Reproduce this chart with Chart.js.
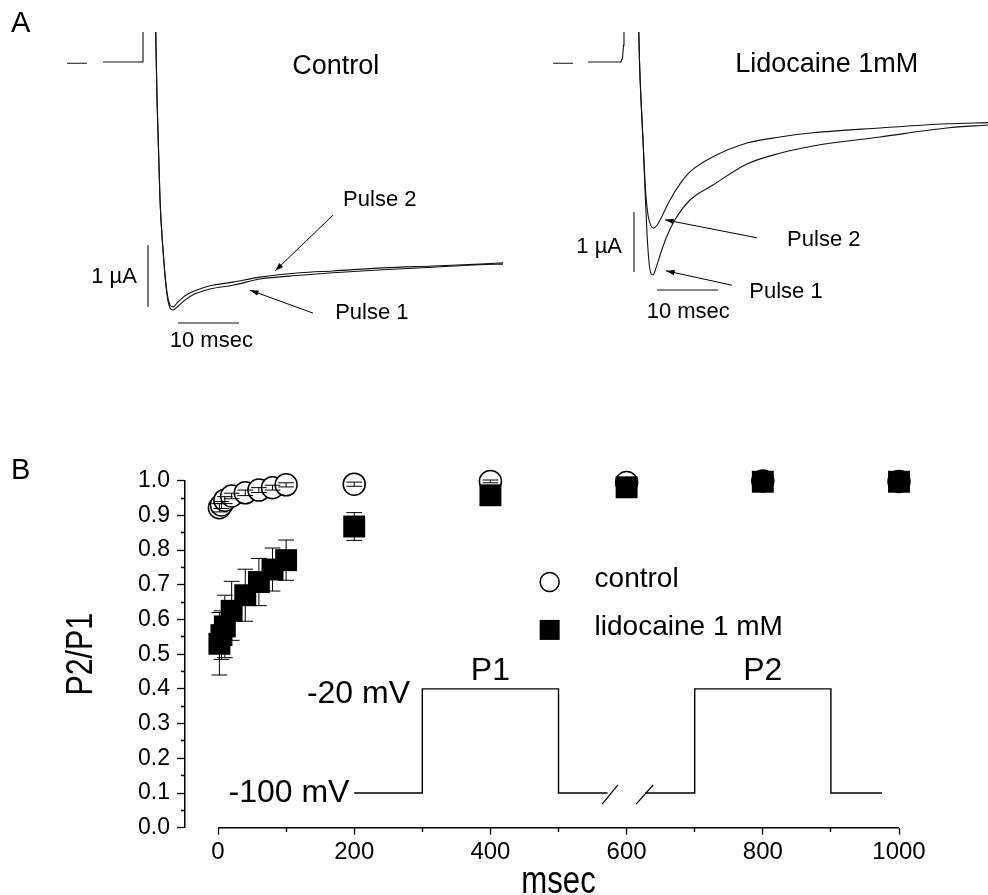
<!DOCTYPE html>
<html>
<head>
<meta charset="utf-8">
<title>Paired pulse recovery</title>
<script src="https://cdn.jsdelivr.net/npm/chart.js@4.4.1/dist/chart.umd.min.js"></script>
<style>
  html, body { margin: 0; padding: 0; background: #fff; overflow: hidden; }
  #page { position: relative; width: 988px; height: 895px; }
  canvas { position: absolute; }
</style>
</head>
<body>
<div id="page">
  <canvas id="ctrl" width="510" height="370" style="left:0;top:0;width:510px;height:370px"></canvas>
  <canvas id="lido" width="508" height="370" style="left:480px;top:0;width:508px;height:370px"></canvas>
  <canvas id="ratio" width="988" height="455" style="left:0;top:440px;width:988px;height:455px"></canvas>
</div>
<script>
// ---- Panel A, control traces (time in ms from step, current in uA) ----
const ctrlTime   = [2.05, 2.30, 2.79, 3.28, 3.85, 4.43, 4.92, 5.74, 6.89, 8.52, 10.98, 14.75, 19.18, 25.74, 31.15, 39.34, 47.54, 55.25, 59.02];
const ctrlPulse2 = [0.68, -0.61, -2.23, -3.03, -3.65, -3.92, -3.95, -3.87, -3.77, -3.69, -3.61, -3.55, -3.47, -3.40, -3.37, -3.32, -3.29, -3.26, -3.24];
const ctrlPulse1 = [0.68, -0.61, -2.23, -3.03, -3.69, -3.97, -4.00, -3.94, -3.84, -3.74, -3.66, -3.60, -3.50, -3.44, -3.40, -3.35, -3.31, -3.27, -3.26];
const ctrlHoldTime = [-12.46, -9.18, -7.9, -6.56, 0, 0];
const ctrlHoldCurr = [-0.02, -0.02, null, 0, 0, 0.6];

// ---- Panel A, lidocaine 1mM traces ----
const lidoTime2  = [2.54, 2.70, 2.95, 3.28, 3.69, 4.10, 4.59, 5.00, 5.57, 6.39, 7.70, 9.34, 10.98, 14.75, 20.33, 25.74, 31.15, 42.13, 53.11, 59.84];
const lidoPulse2 = [0.70, 0.03, -0.63, -1.30, -2.13, -2.55, -2.73, -2.77, -2.72, -2.57, -2.30, -2.03, -1.83, -1.58, -1.35, -1.25, -1.18, -1.10, -1.03, -1.01];
const lidoTime1  = [2.54, 2.70, 2.95, 3.28, 3.61, 3.93, 4.26, 4.59, 4.92, 5.41, 6.23, 7.21, 8.52, 10.98, 14.75, 20.33, 25.74, 31.15, 42.13, 53.11, 59.84];
const lidoPulse1 = [0.70, 0.03, -0.63, -1.30, -2.13, -2.85, -3.33, -3.53, -3.55, -3.43, -3.17, -2.90, -2.63, -2.30, -2.05, -1.70, -1.52, -1.40, -1.25, -1.10, -1.05];
const lidoHoldTime = [-11.48, -8.20, -7.0, -5.74, -0.33, -0.08, 0.08, 0.16];
const lidoHoldCurr = [-0.02, -0.02, null, 0, 0, 0.07, 0.28, 0.7];

// ---- Panel B, P2/P1 vs interpulse interval ----
const intervals = [2, 5, 10, 20, 40, 60, 80, 100, 200, 400, 600, 800, 1000];
const ctrlRatio = [0.922, 0.930, 0.944, 0.956, 0.965, 0.973, 0.980, 0.988, 0.990, 0.998, 0.995, 0.999, 0.998];
const ctrlSem   = [0.012, 0.010, 0.010, 0.008, 0.008, 0.007, 0.007, 0.006, 0.006, 0.004, 0.004, 0.003, 0.003];
const lidoRatio = [0.530, 0.555, 0.580, 0.625, 0.670, 0.708, 0.744, 0.771, 0.868, 0.958, 0.981, 0.997, 0.997];
const lidoSem   = [0.090, 0.070, 0.090, 0.085, 0.075, 0.068, 0.062, 0.058, 0.040, 0.012, 0.010, 0.006, 0.006];

// voltage protocol drawn inside panel B (x in ms, y on the P2/P1 scale)
const protoTime  = [200, 300, 300, 500, 500, 572, 572, 627, 700, 700, 900, 900, 975];
const protoLevel = [0.1, 0.1, 0.4, 0.4, 0.1, 0.1, null, 0.1, 0.1, 0.4, 0.4, 0.1, 0.1];
const breakTime  = [564, 587, 600, 614, 639];
const breakLevel = [0.068, 0.123, null, 0.068, 0.123];

const xTickVals = [0, 100, 200, 300, 400, 500, 600, 700, 800, 900, 1000];
const xTickText = ['0', '', '200', '', '400', '', '600', '', '800', '', '1000'];
const yTickVals = [0, 0.05, 0.1, 0.15, 0.2, 0.25, 0.3, 0.35, 0.4, 0.45, 0.5, 0.55, 0.6, 0.65, 0.7, 0.75, 0.8, 0.85, 0.9, 0.95, 1.0];
const yTickText = ['0.0', '', '0.1', '', '0.2', '', '0.3', '', '0.4', '', '0.5', '', '0.6', '', '0.7', '', '0.8', '', '0.9', '', '1.0'];

const SANS = "'Liberation Sans', Arial, sans-serif";

Chart.defaults.color = '#000';
Chart.defaults.font.family = SANS;

const pts = (xs, ys) => xs.map((x, i) => ({x: x, y: ys[i]}));

// error bars as short segments with caps, separated by gaps
function errPts(xs, ys, es, cap) {
  const out = [];
  xs.forEach((x, i) => {
    const lo = ys[i] - es[i], hi = ys[i] + es[i];
    out.push({x: x, y: lo}, {x: x, y: hi}, {x: x, y: null},
             {x: x - cap, y: hi}, {x: x + cap, y: hi}, {x: x, y: null},
             {x: x - cap, y: lo}, {x: x + cap, y: lo}, {x: x, y: null});
  });
  return out;
}

// squeeze < 1 narrows the glyphs (the figure uses a condensed face for some labels)
function text(ctx, s, x, y, size, align, squeeze, rot) {
  ctx.save();
  ctx.translate(x, y);
  if (rot) ctx.rotate(rot);
  if (squeeze) ctx.scale(squeeze, 1);
  ctx.font = size + 'px ' + SANS;
  ctx.fillStyle = '#000';
  ctx.textAlign = align || 'left';
  ctx.textBaseline = 'middle';
  ctx.fillText(s, 0, 0);
  ctx.restore();
}

function arrow(ctx, x1, y1, x2, y2) {
  const a = Math.atan2(y2 - y1, x2 - x1);
  ctx.save();
  ctx.strokeStyle = '#000';
  ctx.fillStyle = '#000';
  ctx.lineWidth = 1;
  ctx.beginPath();
  ctx.moveTo(x1, y1);
  ctx.lineTo(x2, y2);
  ctx.stroke();
  ctx.beginPath();
  ctx.moveTo(x2, y2);
  ctx.lineTo(x2 - 9 * Math.cos(a - 0.3), y2 - 9 * Math.sin(a - 0.3));
  ctx.lineTo(x2 - 9 * Math.cos(a + 0.3), y2 - 9 * Math.sin(a + 0.3));
  ctx.closePath();
  ctx.fill();
  ctx.restore();
}

// labels for panel A traces, positioned in ms / uA
function notesPlugin(notes) {
  return {
    id: 'notes',
    afterDatasetsDraw(chart) {
      const ctx = chart.ctx, sx = chart.scales.x, sy = chart.scales.y;
      notes.texts.forEach(n => text(ctx, n.s, sx.getPixelForValue(n.t), sy.getPixelForValue(n.i), n.size, n.align));
      notes.arrows.forEach(a => arrow(ctx, sx.getPixelForValue(a[0]), sy.getPixelForValue(a[1]),
                                           sx.getPixelForValue(a[2]), sy.getPixelForValue(a[3])));
      if (notes.panel) text(ctx, notes.panel, 11, 24, 29, 'left');
    }
  };
}

function traceChart(id, cfg) {
  const trace = d => ({data: d, showLine: true, borderColor: '#111', borderWidth: 1.1, pointRadius: 0, cubicInterpolationMode: 'monotone'});
  const plain = d => ({data: d, showLine: true, borderColor: '#111', borderWidth: 1.1, pointRadius: 0, tension: 0});
  return new Chart(document.getElementById(id), {
    type: 'scatter',
    data: {datasets: cfg.traces.map(trace).concat(cfg.lines.map(plain))},
    options: {
      responsive: false,
      animation: false,
      events: [],
      layout: {padding: {top: 32, left: 0, right: 0, bottom: 0}},
      plugins: {legend: {display: false}, tooltip: {enabled: false}},
      scales: {
        x: {type: 'linear', display: false, min: cfg.xmin, max: cfg.xmax},
        y: {type: 'linear', display: false, min: cfg.ymin, max: cfg.ymax}
      }
    },
    plugins: [notesPlugin(cfg.notes)]
  });
}

traceChart('ctrl', {
  xmin: -23.443, xmax: 60.164, ymin: -4.968, ymax: 0.484,
  traces: [pts(ctrlTime, ctrlPulse1), pts(ctrlTime, ctrlPulse2)],
  lines: [pts(ctrlHoldTime, ctrlHoldCurr),
          pts([0.82, 0.82], [-2.95, -3.95]),
          pts([5.74, 15.74], [-4.21, -4.21])],
  notes: {
    panel: 'A',
    texts: [
      {s: 'Control', t: 31.6, i: -0.07, size: 27, align: 'center'},
      {s: 'Pulse 2', t: 32.8, i: -2.23, size: 22},
      {s: 'Pulse 1', t: 31.5, i: -4.05, size: 22},
      {s: '1 \u00B5A', t: -1.0, i: -3.47, size: 22, align: 'right'},
      {s: '10 msec', t: 11.2, i: -4.5, size: 22, align: 'center'}
    ],
    arrows: [[31.15, -2.47, 21.64, -3.37], [27.87, -4.05, 17.54, -3.68]]
  }
});

traceChart('lido', {
  xmin: -23.443, xmax: 59.836, ymin: -5.133, ymax: 0.5,
  traces: [pts(lidoTime1, lidoPulse1), pts(lidoTime2, lidoPulse2)],
  lines: [pts(lidoHoldTime, lidoHoldCurr),
          pts([1.80, 1.80], [-2.5, -3.5]),
          pts([5.57, 15.57], [-3.8, -3.8])],
  notes: {
    texts: [
      {s: 'Lidocaine 1mM', t: 18.4, i: -0.05, size: 27},
      {s: 'Pulse 2', t: 26.9, i: -2.97, size: 22},
      {s: 'Pulse 1', t: 20.7, i: -3.83, size: 22},
      {s: '1 \u00B5A', t: -0.16, i: -3.08, size: 22, align: 'right'},
      {s: '10 msec', t: 10.7, i: -4.17, size: 22, align: 'center'}
    ],
    arrows: [[21.97, -2.93, 6.89, -2.63], [17.87, -3.72, 7.05, -3.48]]
  }
});

// panel B extras: x axis line from 0 to 1000, legend, protocol labels, titles
const panelB = {
  id: 'panelB',
  afterDatasetsDraw(chart) {
    const ctx = chart.ctx, sx = chart.scales.x, sy = chart.scales.y, area = chart.chartArea;
    ctx.save();
    ctx.strokeStyle = '#000';
    ctx.lineWidth = 1.5;
    ctx.beginPath();
    ctx.moveTo(sx.getPixelForValue(0), area.bottom);
    ctx.lineTo(sx.getPixelForValue(1000), area.bottom);
    ctx.stroke();

    // legend
    const lx = sx.getPixelForValue(487);
    ctx.beginPath();
    ctx.arc(lx, sy.getPixelForValue(0.708), 9.5, 0, Math.PI * 2);
    ctx.fillStyle = '#fff';
    ctx.fill();
    ctx.stroke();
    ctx.fillStyle = '#000';
    ctx.fillRect(lx - 10, sy.getPixelForValue(0.57) - 10, 20, 20);
    ctx.restore();
    text(ctx, 'control', sx.getPixelForValue(553), sy.getPixelForValue(0.715), 28);
    text(ctx, 'lidocaine 1 mM', sx.getPixelForValue(553), sy.getPixelForValue(0.578), 28);

    // protocol labels
    text(ctx, '-20 mV', sx.getPixelForValue(282), sy.getPixelForValue(0.385), 32, 'right');
    text(ctx, '-100 mV', sx.getPixelForValue(193), sy.getPixelForValue(0.1), 32, 'right');
    text(ctx, 'P1', sx.getPixelForValue(400), sy.getPixelForValue(0.45), 32, 'center');
    text(ctx, 'P2', sx.getPixelForValue(800), sy.getPixelForValue(0.45), 32, 'center');

    // axis titles in the condensed style of the figure
    text(ctx, 'msec', sx.getPixelForValue(500), 443, 38, 'center', 0.82);
    text(ctx, 'P2/P1', 82, (area.top + area.bottom) / 2, 37, 'center', 0.82, -Math.PI / 2);
    text(ctx, 'B', 11, 31, 29, 'left');
  }
};

new Chart(document.getElementById('ratio'), {
  type: 'scatter',
  data: {
    datasets: [
      {label: 'lidocaine 1 mM', data: pts(intervals, lidoRatio), pointStyle: 'rect', pointRadius: 15.5,
       backgroundColor: '#000', borderColor: '#000', borderWidth: 0, order: 0, clip: false},
      {data: errPts(intervals, lidoRatio, lidoSem, 11.5), showLine: true, pointRadius: 0,
       borderColor: '#000', borderWidth: 1, order: 1, clip: false},
      {data: errPts(intervals, ctrlRatio, ctrlSem, 11.5), showLine: true, pointRadius: 0,
       borderColor: '#000', borderWidth: 1, order: 2, clip: false},
      {label: 'control', data: pts(intervals, ctrlRatio), pointStyle: 'circle', pointRadius: 11,
       backgroundColor: '#fff', borderColor: '#000', borderWidth: 1.5, order: 3, clip: false},
      {data: pts(protoTime, protoLevel), showLine: true, pointRadius: 0, borderColor: '#000',
       borderWidth: 1.4, order: 4, clip: false},
      {data: pts(breakTime, breakLevel), showLine: true, pointRadius: 0, borderColor: '#000',
       borderWidth: 1.2, order: 4, clip: false}
    ]
  },
  options: {
    responsive: false,
    animation: false,
    events: [],
    layout: {padding: {top: 40.7, right: 89, bottom: 0, left: 0}},
    plugins: {legend: {display: false}, tooltip: {enabled: false}},
    scales: {
      x: {
        type: 'linear', min: -48.5, max: 1000,
        afterBuildTicks: s => { s.ticks = xTickVals.map(v => ({value: v})); },
        afterFit: s => { s.height = 67.3; },
        border: {display: false},
        grid: {drawOnChartArea: false, drawTicks: true, tickLength: 7, tickColor: '#000', tickWidth: 1.3,
               tickBorderDash: c => (xTickText[c.index] === '' ? [4, 100] : [])},
        ticks: {autoSkip: false, maxRotation: 0, padding: 3, color: '#000',
                font: {family: SANS, size: 24},
                callback: (v, i) => xTickText[i]}
      },
      y: {
        type: 'linear', min: 0, max: 1.0,
        afterBuildTicks: s => { s.ticks = yTickVals.map(v => ({value: v})); },
        afterFit: s => { s.width = 185; },
        border: {display: true, color: '#000', width: 1.5},
        grid: {drawOnChartArea: false, drawTicks: true, tickLength: 8, tickColor: '#000', tickWidth: 1.3,
               tickBorderDash: c => (yTickText[c.index] === '' ? [0, 4, 4, 100] : [])},
        ticks: {autoSkip: false, padding: 7, color: '#000',
                font: {family: SANS, size: 23},
                callback: (v, i) => yTickText[i]}
      }
    }
  },
  plugins: [panelB]
});
</script>
</body>
</html>
